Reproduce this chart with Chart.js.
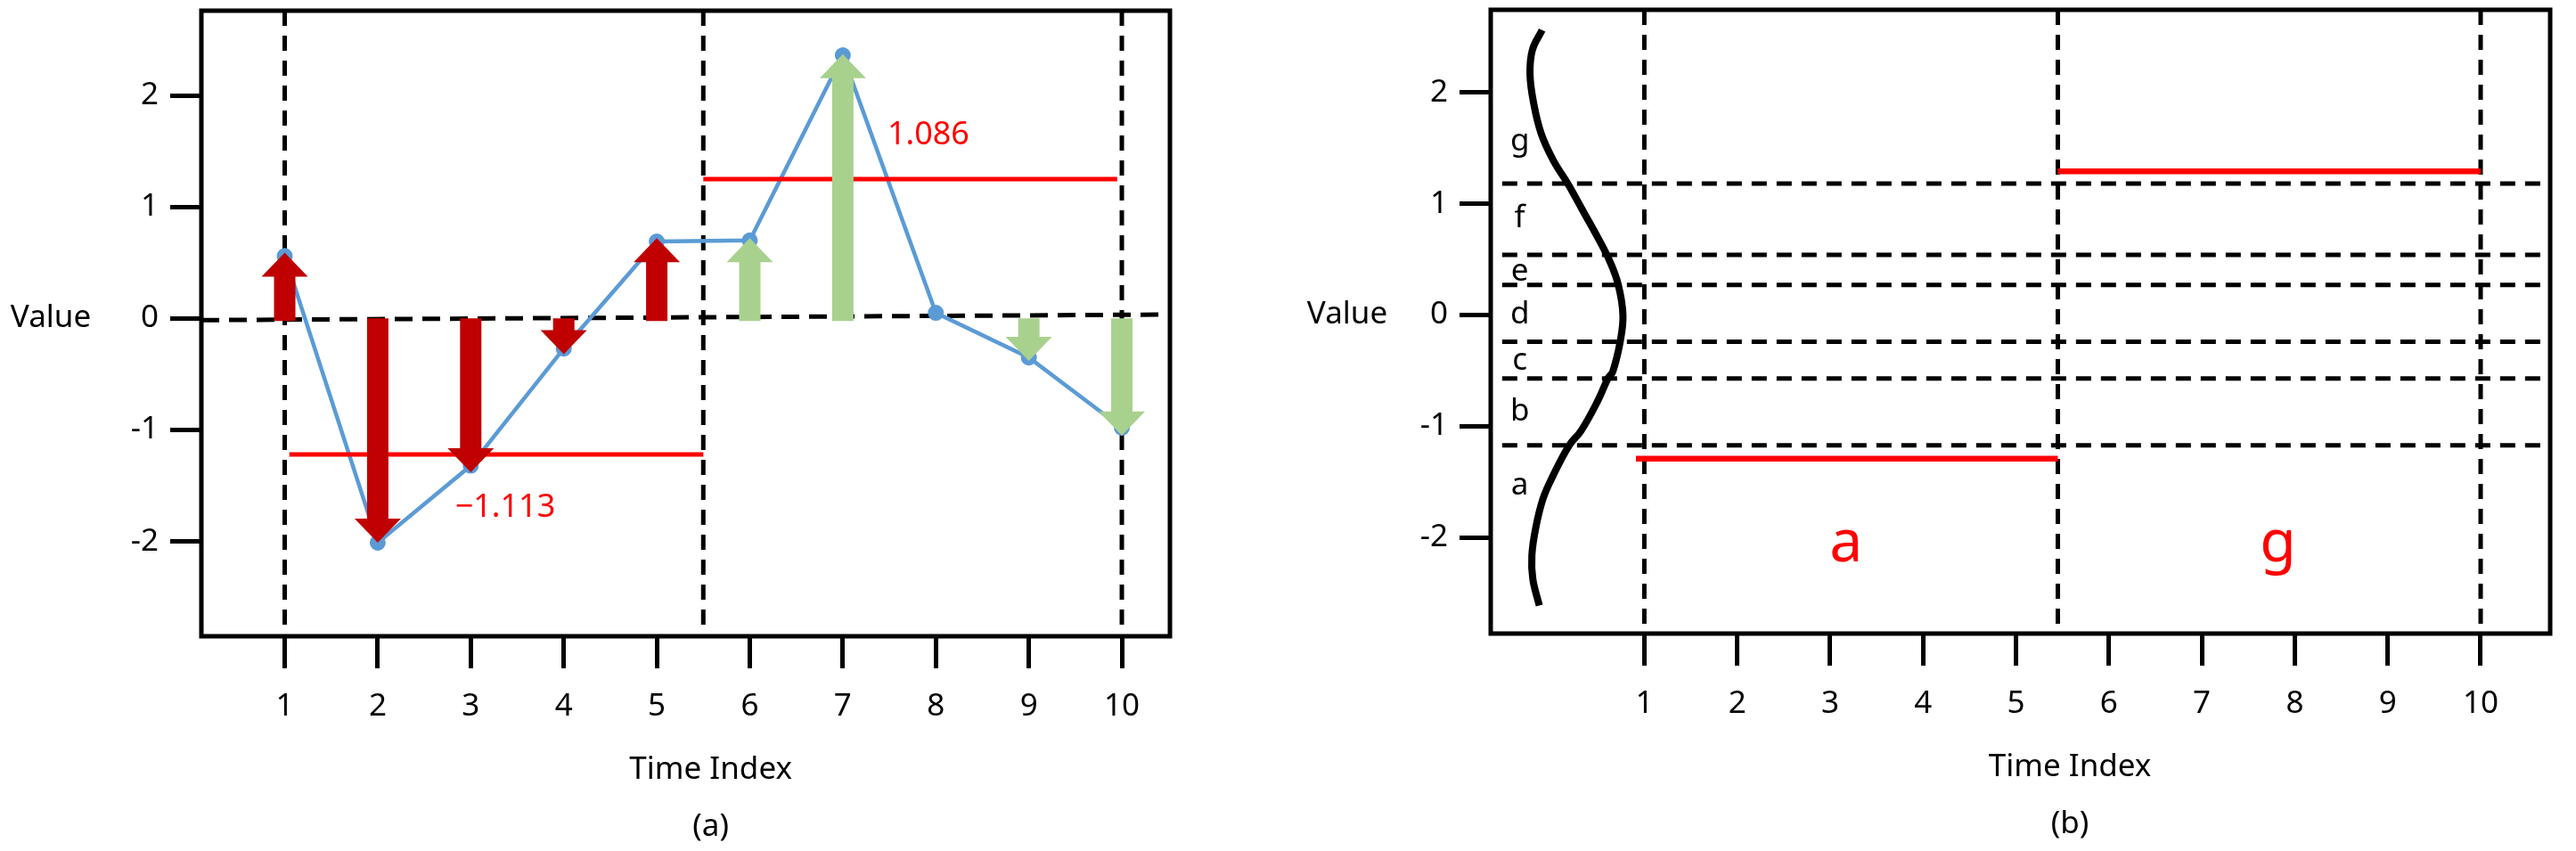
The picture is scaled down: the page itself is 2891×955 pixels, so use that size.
<!DOCTYPE html>
<html><head><meta charset="utf-8">
<script src="https://cdn.jsdelivr.net/npm/chart.js@4.4.1/dist/chart.umd.min.js"></script>
<style>
html,body{margin:0;padding:0;background:#fff;width:2891px;height:955px;overflow:hidden}
#wrapA{position:absolute;left:0;top:0;width:1445px;height:955px}
#wrapB{position:absolute;left:1445px;top:0;width:1446px;height:955px}
</style></head><body>
<div id="wrapA"><canvas id="chartA" width="1445" height="955"></canvas></div>
<div id="wrapB"><canvas id="chartB" width="1446" height="955"></canvas></div>
<script>
// ---------- data ----------
const timeIndex = [1,2,3,4,5,6,7,8,9,10];
const xTickLabels = ['1','2','3','4','5','6','7','8','9','10'];
const yTickValues = [-2,-1,0,1,2];
const seriesValues = [0.56,-2.01,-1.32,-0.27,0.69,0.70,2.36,0.05,-0.35,-0.98];
const arrowTips = [0.59,-2.01,-1.38,-0.32,0.72,0.72,2.37,null,-0.38,-1.05];
const baselineEnds = [-0.015,0.035];
const segmentBoundsA = [1,5.5,10];
const segmentLevelsA = [-1.22,1.25];
const segmentLabelsA = ['\u22121.113','1.086'];
// panel b
const breakpoints = [-1.17,-0.57,-0.24,0.27,0.54,1.18];
const symbols = ['a','b','c','d','e','f','g'];
const segmentBoundsB = [1,5.45,10];
const segmentLevelsB = [-1.29,1.29];
const segmentSymbols = ['a','g'];
const densityX = [-0.10,-0.205,-0.23,-0.19,-0.11,0.02,0.18,0.34,0.50,0.63,0.72,0.77,0.74,0.66,0.61,0.50,0.32,0.19,0.02,-0.09,-0.17,-0.21,-0.20,-0.13];
const densityY = [2.56,2.38,2.16,1.90,1.63,1.39,1.175,0.935,0.695,0.48,0.27,0.0,-0.24,-0.51,-0.567,-0.77,-1.04,-1.173,-1.44,-1.65,-1.92,-2.16,-2.37,-2.61];

// ---------- styles / layout ----------
const FONT = '"Noto Sans", "Open Sans", sans-serif';
Chart.defaults.font.family = FONT;
Chart.defaults.color = '#000';
const C_DARKRED = '#C00000', C_GREEN = '#A9D18E', C_BLUE = '#5B9BD5', C_RED = '#FF0000';
const DASH = [17,11];
const DASH_W = 5;

const annotA = {
  segLabelPos: [{x:3.37,y:-1.70},{x:7.92,y:1.64}],
  valueOffset: 169, titleX: 5.58
};
const annotB = {
  symbolX: -0.34, symbolY: [-1.53,-0.87,-0.41,0.0,0.39,0.87,1.56],
  bigPos: [{x:3.17,y:-2.06},{x:7.82,y:-2.06}],
  hLineStart: -0.53, valueOffset: 161, titleX: 5.58
};

const arrowPlugin = {
  id:'arrows',
  afterDatasetsDraw(chart){
    const ctx = chart.ctx, ys = chart.scales.y;
    chart.data.datasets.forEach((ds,i)=>{
      if(!ds.arrowColors) return;
      const meta = chart.getDatasetMeta(i);
      const y0 = ys.getPixelForValue(0);
      meta.data.forEach((pt,j)=>{
        if(ds.data[j].y == null) return;
        const x = pt.x, yt = pt.y;
        const dir = yt < y0 ? -1 : 1;
        const headH = 27, headW = 52, shaftW = 24;
        const yb = y0 + (dir<0 ? 3 : 0);
        const yh = yt - dir*headH;
        ctx.save();
        ctx.fillStyle = ds.arrowColors[j];
        ctx.beginPath();
        ctx.moveTo(x-shaftW/2, yb);
        ctx.lineTo(x-shaftW/2, yh);
        ctx.lineTo(x-headW/2, yh);
        ctx.lineTo(x, yt);
        ctx.lineTo(x+headW/2, yh);
        ctx.lineTo(x+shaftW/2, yh);
        ctx.lineTo(x+shaftW/2, yb);
        ctx.closePath(); ctx.fill();
        ctx.restore();
      });
    });
  }
};

function textPlugin(items){
  return {
    id:'texts',
    afterDraw(chart){
      const ctx = chart.ctx, ca = chart.chartArea;
      ctx.save();
      ctx.strokeStyle = '#000'; ctx.lineWidth = 5;
      ctx.strokeRect(ca.left, ca.top, ca.right-ca.left, ca.bottom-ca.top);
      ctx.textAlign = 'center'; ctx.textBaseline = 'middle';
      items(chart).forEach(t=>{
        ctx.font = t.font; ctx.fillStyle = t.color || '#000';
        ctx.fillText(t.text, t.px, t.py);
      });
      ctx.restore();
    }
  };
}

function hseg(x1,x2,y){ return [{x:x1,y:y},{x:x2,y:y}]; }
function vseg(x,y1,y2){ return [{x:x,y:y1},{x:x,y:y2}]; }

function axes(xmin,xmax,ymin,ymax,yW,xH){
  const grid = {drawOnChartArea:false, drawTicks:true, tickLength:36, tickWidth:5, tickColor:'#000', color:'#000'};
  return {
    x:{type:'linear', min:xmin, max:xmax, border:{display:false}, grid:grid,
       afterBuildTicks:s=>{ s.ticks = timeIndex.map(v=>({value:v})); },
       afterFit:s=>{ s.height = xH; s.paddingLeft = 0; s.paddingRight = 0; s.paddingTop = 0; s.paddingBottom = 0; },
       ticks:{color:'#000', font:{size:35, family:FONT}, padding:22, maxRotation:0, autoSkip:false,
              callback:v=>xTickLabels[timeIndex.indexOf(v)]}},
    y:{type:'linear', min:ymin, max:ymax, border:{display:false}, grid:Object.assign({},grid,{tickLength:35}),
       afterBuildTicks:s=>{ s.ticks = yTickValues.map(v=>({value:v})); },
       afterFit:s=>{ s.width = yW; s.paddingTop = 0; s.paddingBottom = 0; s.paddingLeft = 0; s.paddingRight = 0; },
       ticks:{color:'#000', font:{size:35, family:FONT}, padding:13, callback:v=>String(v)}}
  };
}

const baseOpts = {responsive:false, animation:false, devicePixelRatio:1,
  plugins:{legend:{display:false}, tooltip:{enabled:false}}, events:[]};

// ---------- chart A ----------
(function(){
  const xmin=0.104, xmax=10.517, ymin=-2.85, ymax=2.76;
  const ds = [];
  segmentBoundsA.forEach(b=>ds.push({data:vseg(b,ymax,ymin), showLine:true, borderColor:'#000', borderWidth:DASH_W, borderDash:DASH, pointRadius:0, order:6}));
  ds.push({data:hseg(xmin,xmax,0).map((p,i)=>({x:p.x,y:baselineEnds[i]})), showLine:true, borderColor:'#000', borderWidth:DASH_W, borderDash:[20,11], pointRadius:0, order:5});
  ds.push({data:timeIndex.map((t,i)=>({x:t,y:seriesValues[i]})), showLine:true, borderColor:C_BLUE, borderWidth:4.5,
           pointRadius:8, pointBackgroundColor:C_BLUE, pointBorderColor:C_BLUE, pointBorderWidth:2, tension:0, order:4});
  segmentLevelsA.forEach((lv,k)=>{
    const x1 = k===0 ? segmentBoundsA[0]+0.05 : segmentBoundsA[1];
    const x2 = k===0 ? segmentBoundsA[1] : segmentBoundsA[2]-0.05;
    ds.push({data:hseg(x1,x2,lv), showLine:true, borderColor:C_RED, borderWidth:5, pointRadius:0, order:3});
  });
  ds.push({data:timeIndex.map((t,i)=>({x:t,y:arrowTips[i]})), showLine:false, pointRadius:0, pointHoverRadius:0,
           arrowColors:timeIndex.map(t=>t<segmentBoundsA[1]?C_DARKRED:C_GREEN), order:1});
  new Chart(document.getElementById('chartA'), {
    type:'scatter', data:{datasets:ds},
    options:Object.assign({}, baseOpts, {
      layout:{autoPadding:false, padding:{left:0, top:12, right:1445-1313, bottom:0}},
      scales:axes(xmin,xmax,ymin,ymax,226,955-714)
    }),
    plugins:[arrowPlugin, textPlugin(chart=>{
      const xs=chart.scales.x, ys=chart.scales.y, ca=chart.chartArea;
      const out = [];
      segmentLabelsA.forEach((t,k)=>out.push({text:t, px:xs.getPixelForValue(annotA.segLabelPos[k].x), py:ys.getPixelForValue(annotA.segLabelPos[k].y), font:'36px '+FONT, color:C_RED}));
      out.push({text:'Value', px:ca.left-annotA.valueOffset, py:ys.getPixelForValue(0), font:'35px '+FONT});
      out.push({text:'Time Index', px:xs.getPixelForValue(annotA.titleX), py:ca.bottom+150, font:'35px '+FONT});
      out.push({text:'(a)', px:xs.getPixelForValue(annotA.titleX), py:ca.bottom+214, font:'35px '+FONT});
      return out;
    })]
  });
})();

// ---------- chart B ----------
(function(){
  const xmin=-0.653, xmax=10.748, ymin=-2.862, ymax=2.742;
  const ds = [];
  segmentBoundsB.forEach(b=>ds.push({data:vseg(b,ymax,ymin), showLine:true, borderColor:'#000', borderWidth:DASH_W, borderDash:DASH, pointRadius:0, order:6}));
  breakpoints.forEach(bp=>ds.push({data:hseg(annotB.hLineStart,xmax,bp), showLine:true, borderColor:'#000', borderWidth:DASH_W, borderDash:DASH, pointRadius:0, order:5}));
  ds.push({data:densityX.map((x,i)=>({x:x,y:densityY[i]})), showLine:true, borderColor:'#000', borderWidth:8, tension:0.4, pointRadius:0, order:4});
  segmentLevelsB.forEach((lv,k)=>{
    const x1 = k===0 ? segmentBoundsB[0]-0.09 : segmentBoundsB[1];
    const x2 = k===0 ? segmentBoundsB[1] : segmentBoundsB[2];
    ds.push({data:hseg(x1,x2,lv), showLine:true, borderColor:C_RED, borderWidth:6.5, pointRadius:0, order:3});
  });
  new Chart(document.getElementById('chartB'), {
    type:'scatter', data:{datasets:ds},
    options:Object.assign({}, baseOpts, {
      layout:{autoPadding:false, padding:{left:0, top:11, right:1446-1417, bottom:0}},
      scales:axes(xmin,xmax,ymin,ymax,228,955-711)
    }),
    plugins:[textPlugin(chart=>{
      const xs=chart.scales.x, ys=chart.scales.y, ca=chart.chartArea;
      const out = [];
      symbols.forEach((s,k)=>out.push({text:s, px:xs.getPixelForValue(annotB.symbolX), py:ys.getPixelForValue(annotB.symbolY[k]), font:'35px '+FONT}));
      segmentSymbols.forEach((s,k)=>out.push({text:s, px:xs.getPixelForValue(annotB.bigPos[k].x), py:ys.getPixelForValue(annotB.bigPos[k].y), font:'66px '+FONT, color:C_RED}));
      out.push({text:'Value', px:ca.left-annotB.valueOffset, py:ys.getPixelForValue(0), font:'35px '+FONT});
      out.push({text:'Time Index', px:xs.getPixelForValue(annotB.titleX), py:ca.bottom+150, font:'35px '+FONT});
      out.push({text:'(b)', px:xs.getPixelForValue(annotB.titleX), py:ca.bottom+214, font:'35px '+FONT});
      return out;
    })]
  });
})();
</script>
</body></html>
